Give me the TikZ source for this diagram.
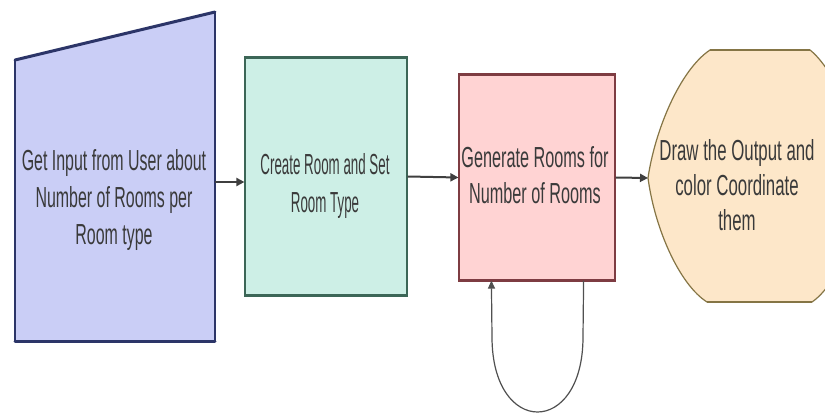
\documentclass[tikz,border=0pt]{standalone}
\usepackage{fontspec}
\setmainfont{Liberation Sans}
\newfontfamily\fA[FakeStretch=0.55]{Liberation Sans}
\newfontfamily\fB[FakeStretch=0.46]{Liberation Sans}
\newfontfamily\fC[FakeStretch=0.56]{Liberation Sans}
\newfontfamily\fD[FakeStretch=0.58]{Liberation Sans}
\usetikzlibrary{arrows.meta}
\definecolor{inFill}{HTML}{CACEF6}
\definecolor{inLine}{HTML}{2C3568}
\definecolor{crFill}{HTML}{CDEFE6}
\definecolor{crLine}{HTML}{3C6657}
\definecolor{genFill}{HTML}{FFD3D3}
\definecolor{genLine}{HTML}{7E3C42}
\definecolor{outFill}{HTML}{FDE7C9}
\definecolor{outLine}{HTML}{857545}
\definecolor{txt}{HTML}{3A3A3A}
\definecolor{arrc}{HTML}{3F3F3F}
\definecolor{loopc}{HTML}{505050}
\tikzset{
  lbl/.style={align=center, text=txt, inner sep=0pt},
  boxnode/.style={draw, line width=1.2pt, minimum width=#1, inner sep=0pt},
  arr/.style={draw=arrc, line width=2pt, -{Triangle[length=8pt,width=8pt]}},
  looparr/.style={draw=loopc, line width=1.2pt, -{Triangle[length=8pt,width=7pt]}}
}
\begin{document}
\begin{tikzpicture}[x=1pt,y=-1pt]
\useasboundingbox (0,0) rectangle (825,414);
\clip (0,0) rectangle (825,414);
\fill[white] (0,0) rectangle (825,414);
% shape 1 : manual input
\fill[inFill] (15,60) -- (215,12) -- (215,341) -- (15,341) -- cycle;
\draw[inLine, line width=1.2pt] (15,60) -- (15,341) (215,12) -- (215,341);
\draw[inLine, line width=3pt, line cap=round] (15,60) -- (215,12);
\draw[inLine, line width=3pt, line cap=round] (15,341) -- (215,341);
\node[lbl, font=\fA\fontsize{29}{37}\selectfont] (t1) at (114,200) {Get Input from User about\\Number of Rooms per\\Room type};
\coordinate (p1) at (215,182);
% shape 2
\node[boxnode=162pt, minimum height=237pt, fill=crFill, draw=crLine] (b2) at (326,176.5) {};
\draw[crLine, line width=3pt] (b2.north west) -- (b2.north east);
\draw[crLine, line width=3pt] (b2.south west) -- (b2.south east);
\node[lbl, font=\fB\fontsize{29}{38}\selectfont] (t2) at (325,186) {Create Room and Set\\Room Type};
% shape 3
\node[boxnode=156pt, minimum height=205pt, fill=genFill, draw=genLine] (b3) at (537,177.5) {};
\draw[genLine, line width=3pt] (b3.north west) -- (b3.north east);
\draw[genLine, line width=3pt] (b3.south west) -- (b3.south east);
\node[lbl, font=\fC\fontsize{29}{36}\selectfont] (t3) at (535,175) {Generate Rooms for\\Number of Rooms};
% shape 4 : display
\filldraw[fill=outFill, draw=outLine, line width=1.2pt]
  (710,50) -- (810,50) .. controls (835,70) and (860,130) .. (872,178)
  .. controls (860,230) and (837,285) .. (812,302) -- (707,302)
  .. controls (680,285) and (655,230) .. (648,178)
  .. controls (655,130) and (680,70) .. (710,50) -- cycle;
\draw[outLine, line width=2.5pt] (710,50) -- (810,50);
\draw[outLine, line width=2.5pt] (707,302) -- (812,302);
\coordinate (p4) at (648,178);
\node[lbl, font=\fD\fontsize{29}{35}\selectfont] (t4) at (737,185) {Draw the Output and\\color Coordinate\\them};
% connectors
\draw[arr] (p1) -- (p1 -| b2.west);
\draw[arr] (b2.east) -- (b3.west);
\draw[arr] (b3.east) -- (p4);
\draw[looparr] ([xshift=-32pt]b3.south east) -- (583,337)
  .. controls (583,437) and (492,437) .. (492,337) -- ([xshift=33pt]b3.south west);
\end{tikzpicture}
\end{document}
